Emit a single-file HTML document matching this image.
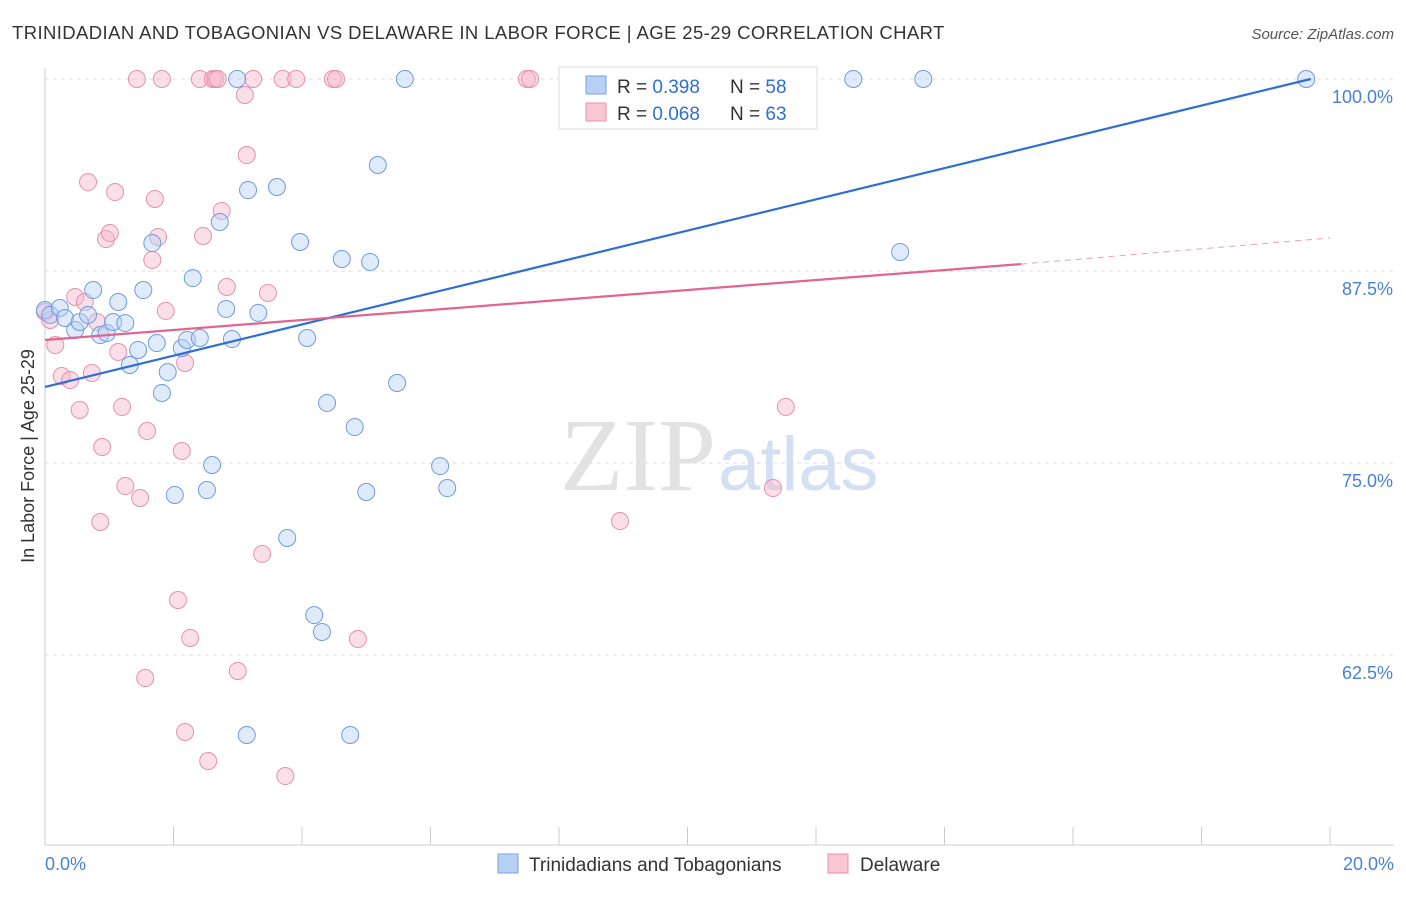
<!DOCTYPE html>
<html><head><meta charset="utf-8"><style>
body{margin:0;background:#fff;font-family:"Liberation Sans",sans-serif;}
</style></head><body>
<svg width="1406" height="892" xmlns="http://www.w3.org/2000/svg">
<text x="12" y="39" font-size="18.5" letter-spacing="0.4" fill="#333">TRINIDADIAN AND TOBAGONIAN VS DELAWARE IN LABOR FORCE | AGE 25-29 CORRELATION CHART</text>
<text x="1394" y="39" font-size="15" fill="#555" font-style="italic" text-anchor="end">Source: ZipAtlas.com</text>
<text x="716" y="490" font-size="104" fill="#e2e2e2" text-anchor="end" font-family="Liberation Serif">ZIP</text>
<text x="718" y="490" font-size="76" fill="#d3e0f3">atlas</text>
<g id="grid"></g>
<g id="axes"></g>
<g id="pts"></g>
<g id="lines"></g>
<text transform="translate(34,456) rotate(-90)" font-size="18" fill="#333" text-anchor="middle">In Labor Force | Age 25-29</text>
<text x="45" y="870" font-size="18" fill="#4a7fd6">0.0%</text>
<text x="1394" y="870" font-size="18" fill="#4a7fd6" text-anchor="end">20.0%</text>
<g>
<rect x="559" y="67" width="258" height="62" fill="#fff" stroke="#ddd"/>
<rect x="586" y="76" width="20" height="18" fill="#b8d0f5" stroke="#7aa3e0"/>
<rect x="586" y="103" width="20" height="18" fill="#f9c6d6" stroke="#e88fae"/>
<text x="617" y="93" font-size="19" fill="#333">R = <tspan fill="#2f6fd1">0.398</tspan></text>
<text x="730" y="93" font-size="19" fill="#333">N = <tspan fill="#2f6fd1">58</tspan></text>
<text x="617" y="120" font-size="19" fill="#333">R = <tspan fill="#2f6fd1">0.068</tspan></text>
<text x="730" y="120" font-size="19" fill="#333">N = <tspan fill="#2f6fd1">63</tspan></text>
</g>
<g>
<rect x="498" y="854" width="20" height="19" fill="#b8d0f5" stroke="#7aa3e0"/>
<text x="529" y="871" font-size="19" fill="#333">Trinidadians and Tobagonians</text>
<rect x="828" y="854" width="20" height="19" fill="#f9c6d6" stroke="#e88fae"/>
<text x="860" y="871" font-size="19" fill="#333">Delaware</text>
</g>
</svg>
<script>
const yTicks=[100,87.5,75,62.5];
const yTickLabels=["100.0%","87.5%","75.0%","62.5%"];
const xTicks=[0,2,4,6,8,10,12,14,16,18,20];
const blueX=[0,0.08,0.23,0.31,0.47,0.54,0.67,0.75,0.86,0.96,1.06,1.14,1.25,1.32,1.45,1.53,1.67,1.74,1.82,1.91,2.02,2.13,2.21,2.30,2.41,2.52,2.60,2.72,2.82,2.91,2.99,3.16,3.14,3.32,3.61,3.77,3.97,4.08,4.19,4.31,4.39,4.62,4.75,4.82,5.00,5.06,5.18,5.48,5.60,6.15,6.26,9.88,10.46,11.28,12.58,13.31,13.67,19.63];
const blueY=[84.96,84.64,85.09,84.44,83.66,84.18,84.64,86.26,83.33,83.46,84.18,85.48,84.11,81.38,82.36,86.26,89.32,82.81,79.56,80.92,72.92,82.49,83.01,87.04,83.14,73.24,74.87,90.69,85.03,83.07,100,92.77,57.29,84.77,92.97,70.12,89.39,83.14,65.10,64.00,78.91,88.28,57.29,77.34,73.11,88.09,94.40,80.21,100,74.80,73.37,100,100,100,100,88.74,100,100];
const pinkX=[0,0.08,0.16,0.26,0.39,0.47,0.54,0.62,0.67,0.73,0.81,0.86,0.89,0.95,1.01,1.09,1.14,1.20,1.25,1.43,1.48,1.59,1.56,1.67,1.71,1.76,1.82,1.88,2.07,2.13,2.18,2.18,2.26,2.41,2.46,2.54,2.61,2.65,2.69,2.75,2.83,3.00,3.11,3.14,3.24,3.38,3.47,3.70,3.74,3.91,4.48,4.53,4.87,7.50,7.55,8.95,11.33,11.53];
const pinkY=[84.83,84.31,82.68,80.66,80.40,85.81,78.45,85.48,93.29,80.86,84.18,71.16,76.04,89.58,89.97,92.64,82.23,78.65,73.50,100,72.72,77.08,61.00,88.22,92.19,89.71,100,84.90,66.08,75.78,81.51,57.49,63.61,100,89.78,55.60,100,100,100,91.41,86.46,61.46,98.96,95.05,100,69.08,86.07,100,54.62,100,100,100,63.54,100,100,71.22,73.37,78.65];
const blueLine=[[0,79.95],[19.7,100]];
const pinkLine=[[0,83.01],[15.19,87.95]];
const pinkDash=[[15.19,87.95],[20,89.65]];
const NS="http://www.w3.org/2000/svg";
const sx=v=>45+v/20*1285;
const sy=v=>79+(100-v)/12.5*192;
function mk(tag,attrs,parent){const e=document.createElementNS(NS,tag);for(const k in attrs)e.setAttribute(k,attrs[k]);document.getElementById(parent).appendChild(e);return e;}
yTicks.forEach((t,i)=>{
 const l=mk('line',{x1:45,x2:1394,y1:sy(t),y2:sy(t),stroke:'#ddd','stroke-dasharray':'4,4'},'grid');
 
 
 const tx=mk('text',{x:1393,y:sy(t)+24,'font-size':18,fill:'#4a7fd6','text-anchor':'end'},'grid');
 tx.textContent=yTickLabels[i];
 
 
});
const ax=mk('line',{x1:45,x2:45,y1:68,y2:845,stroke:'#ccc'},'axes');


const bx=mk('line',{x1:45,x2:1394,y1:845,y2:845,stroke:'#ccc'},'axes');


xTicks.forEach(t=>{
 const l=mk('line',{x1:sx(t),x2:sx(t),y1:827,y2:845,stroke:'#ccc'},'axes');
 
 
});
function pts(X,Y,fill,stroke,name){X.forEach((x,i)=>{
 const c=mk('circle',{cx:sx(x),cy:sy(Y[i]),r:8.5,fill:fill,'fill-opacity':0.45,stroke:stroke,'stroke-width':1},'pts');
 
 
});}
pts(pinkX,pinkY,'#f7b8cc','#e88fae','delaware-point');
pts(blueX,blueY,'#b8d0f5','#6f9be0','trinidadian-point');
function ln(p,color,name,dash){
 const l=mk('line',{x1:sx(p[0][0]),y1:sy(p[0][1]),x2:sx(p[1][0]),y2:sy(p[1][1]),stroke:color,'stroke-width':dash?1:2.2},'lines');
 if(dash)l.setAttribute('stroke-dasharray','6,5');
 
 
}
ln(blueLine,'#2f6fd1','trinidadian-trend-line');
ln(pinkLine,'#e0658f','delaware-trend-line');
ln(pinkDash,'#e8a0b8','delaware-trend-extension',true);
</script>
</body></html>
